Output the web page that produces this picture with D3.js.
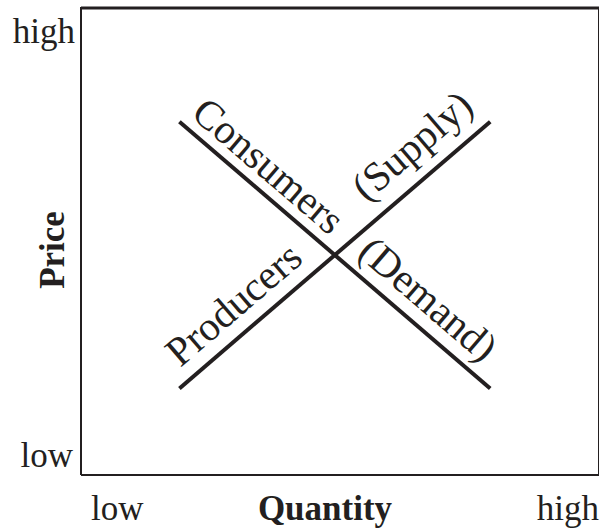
<!DOCTYPE html>
<html>
<head>
<meta charset="utf-8">
<script src="https://cdn.jsdelivr.net/npm/d3@7"></script>
<style>
  body { margin: 0; background: #fff; }
  text { font-family: "Liberation Serif", "Times New Roman", serif; fill: #231f20; }
</style>
</head>
<body>
<svg id="chart" width="600" height="529"></svg>
<script>
// curves in a 0..10 quantity / price space
var supplyCurve = [[1.9, 1.85], [7.9, 7.55]];
var demandCurve = [[1.9, 7.55], [7.9, 1.85]];
var curveNames = ['supply', 'demand'];
var curveLabels = ['Consumers', '(Demand)', 'Producers', '(Supply)'];
var labelCurves = ['demand', 'demand', 'supply', 'supply'];
var yTickLabels = ['low', 'high'];
var xTickLabels = ['low', 'high'];
var xTitle = 'Quantity';
var yTitle = 'Price';

function start() {
  var svg = d3.select('#chart');
  var left = 81, top = 7, right = 599, bottom = 475;
  var ink = '#231f20';

  var x = d3.scaleLinear().domain([0, 10]).range([left, right]);
  var y = d3.scaleLinear().domain([0, 10]).range([bottom, top]);

  // frame
  svg.append('line').attr('x1', left).attr('x2', right).attr('y1', top + 1).attr('y2', top + 1)
    .attr('stroke', ink).attr('stroke-width', 3);
  svg.append('line').attr('x1', left).attr('x2', left).attr('y1', top).attr('y2', bottom)
    .attr('stroke', ink).attr('stroke-width', 2);
  svg.append('line').attr('x1', left).attr('x2', right).attr('y1', bottom).attr('y2', bottom)
    .attr('stroke', ink).attr('stroke-width', 2);
  svg.append('line').attr('x1', right - 0.5).attr('x2', right - 0.5).attr('y1', top).attr('y2', bottom)
    .attr('stroke', ink).attr('stroke-width', 1);

  // tick words
  svg.append('text').attr('x', 75).attr('y', 43).attr('text-anchor', 'end')
    .attr('font-size', 35).text(yTickLabels[1]);
  svg.append('text').attr('x', 73).attr('y', 467).attr('text-anchor', 'end')
    .attr('font-size', 35).text(yTickLabels[0]);
  svg.append('text').attr('x', 91).attr('y', 520)
    .attr('font-size', 35).text(xTickLabels[0]);
  svg.append('text').attr('x', 599).attr('y', 520).attr('text-anchor', 'end')
    .attr('font-size', 35).text(xTickLabels[1]);

  // titles
  svg.append('text').attr('x', (left + right) / 2 - 15).attr('y', 520).attr('text-anchor', 'middle')
    .attr('font-size', 35).attr('font-weight', 'bold').text(xTitle);
  svg.append('text').attr('transform', 'translate(64,250) rotate(-90)').attr('text-anchor', 'middle')
    .attr('font-size', 35).attr('font-weight', 'bold').text(yTitle);

  var curves = { supply: supplyCurve, demand: demandCurve };
  var line = d3.line().x(function(d) { return x(d[0]); }).y(function(d) { return y(d[1]); });

  svg.selectAll('path.curve').data(curveNames).enter().append('path')
    .attr('class', 'curve')
    .attr('d', function(d) { return line(curves[d]); })
    .attr('fill', 'none').attr('stroke', ink).attr('stroke-width', 4);

  // where each label starts along its curve (fraction) and how far above it the baseline sits
  var placeAt = [0.01, 0.54, 0.034, 0.642];
  var placeOff = [11, 14, 15, 19];

  svg.selectAll('text.curve-label').data(curveLabels).enter().append('text')
    .attr('class', 'curve-label')
    .attr('font-size', 41)
    .attr('transform', function(d, i) {
      var c = curves[labelCurves[i]];
      var x0 = x(c[0][0]), y0 = y(c[0][1]), x1 = x(c[1][0]), y1 = y(c[1][1]);
      var ang = Math.atan2(y1 - y0, x1 - x0);
      var off = placeOff[i];
      var px = x0 + (x1 - x0) * placeAt[i] + Math.sin(ang) * off;
      var py = y0 + (y1 - y0) * placeAt[i] - Math.cos(ang) * off;
      return 'translate(' + px + ',' + py + ') rotate(' + (ang * 180 / Math.PI) + ')';
    })
    .text(function(d) { return d; });
}
start();
</script>
</body>
</html>
